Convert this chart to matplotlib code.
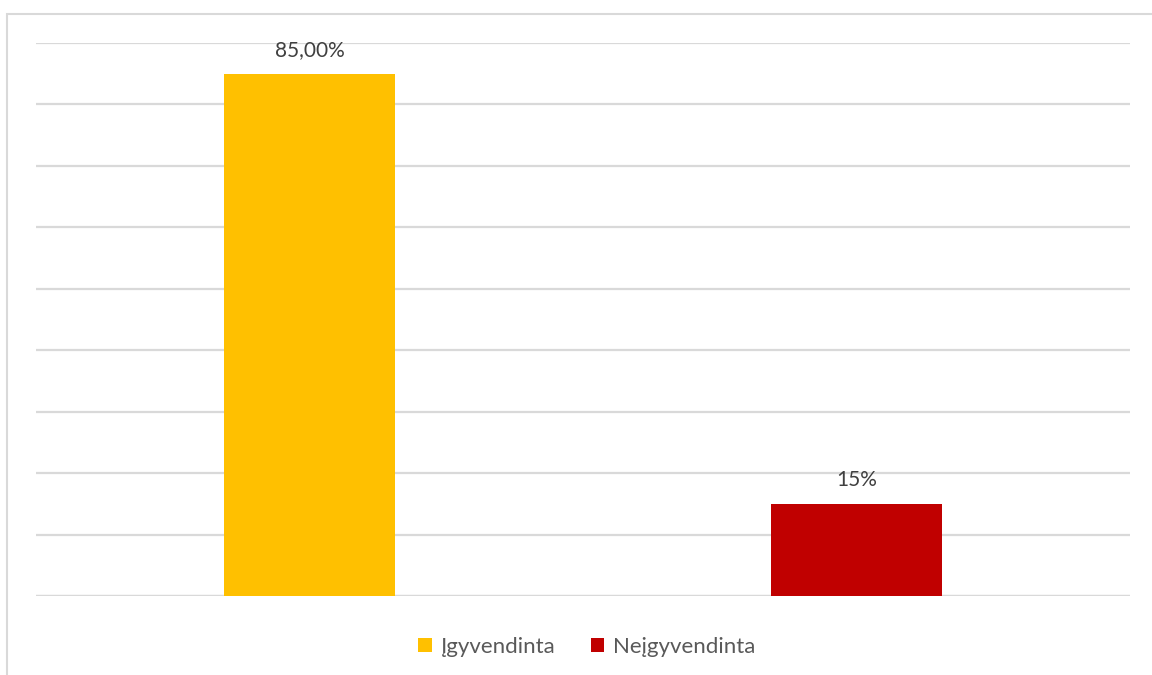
import matplotlib
matplotlib.use("Agg")
import matplotlib.pyplot as plt
from matplotlib.patches import Rectangle, Patch

categories = ["Įgyvendinta", "Neįgyvendinta"]
values = [85, 15]
value_labels = ["85,00%", "15%"]
colors = ["#FFC000", "#C00000"]

plt.rcParams['font.family'] = ['Lato', 'DejaVu Sans']

fig = plt.figure(figsize=(11.52, 6.75), dpi=100)
ax = fig.add_axes([36/1152, 79/675, (1130-36)/1152, (596-43)/675])

x = range(len(categories))
ax.bar(x, values, width=0.314, color=colors, zorder=3)
for xi, v, lab in zip(x, values, value_labels):
    ax.text(xi, v + 2.2, lab, ha='center', va='bottom', fontsize=15, color='#404040')

ax.set_xlim(-0.5, 1.5)
ax.set_ylim(0, 90)
ax.set_yticks(range(0, 91, 10))
ax.yaxis.grid(True, color='#d9d9d9', linewidth=1.6, zorder=0)
ax.tick_params(left=False, bottom=False, labelleft=False, labelbottom=False)
for s in ax.spines.values():
    s.set_visible(False)
ax.axhline(0, color='#d9d9d9', linewidth=1.6, zorder=2)

# chart frame (cut off at right and bottom)
fig.patches.append(Rectangle((7/1152, -0.05), 1.2, 1 - 14/675 + 0.05,
                             transform=fig.transFigure, fill=False,
                             edgecolor='#d9d9d9', linewidth=1.5))

handles = [Patch(facecolor=c, edgecolor='none') for c in colors]
fig.legend(handles, categories, loc='center', bbox_to_anchor=(587/1152, 1 - 647/675),
           ncol=2, frameon=False, fontsize=16, labelcolor='#595959',
           handlelength=0.6, handleheight=0.6, handletextpad=0.4, columnspacing=1.6)

fig.savefig("out.png", dpi=100)
